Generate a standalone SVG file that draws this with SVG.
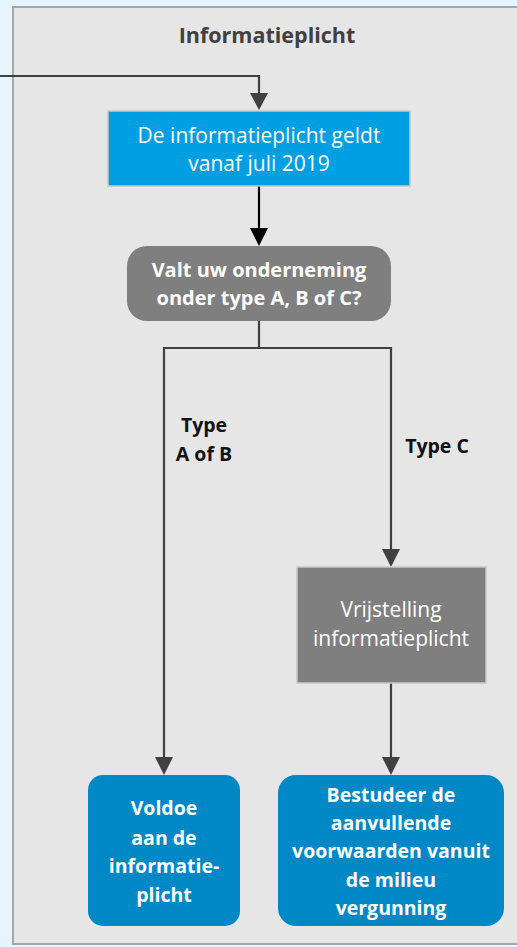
<svg xmlns="http://www.w3.org/2000/svg" width="517" height="947" viewBox="0 0 517 947">
<style>
text{font-family:"Open Sans","Liberation Sans",sans-serif;text-anchor:middle;fill:#fff}
.b{font-weight:bold}
.lab{fill:#111;font-weight:bold;font-size:19.5px}
.n{font-size:21px}
.q{font-size:20px;font-weight:bold}
.e{font-size:19.5px;font-weight:bold}
.c{fill:none;stroke:#404040;stroke-width:2.2}
</style>
<rect width="517" height="947" fill="#E6F5FC"/>
<g id="container">
<rect x="13" y="7" width="510" height="937" fill="#E6E6E6" stroke="#A6A6A6" stroke-width="2"/>
<text x="267" y="43" class="b" style="fill:#404040;font-size:21.5px">Informatieplicht</text>
</g>
<g id="connectors">
<path class="c" d="M0,76 H259 V96"/>
<path d="M250,93 L268,93 L259,110 Z" fill="#404040"/>
<path d="M259,186 V230" fill="none" stroke="#000" stroke-width="2.2"/>
<path d="M250,228 L268,228 L259,246 Z" fill="#000"/>
<path class="c" d="M259,321 V348 M164,348 H391 M164,347 V760 M391,347 V552"/>
<path d="M155,757 L173,757 L164,775 Z" fill="#404040"/>
<path d="M382,549 L400,549 L391,567 Z" fill="#404040"/>
<path class="c" d="M391,683 V760"/>
<path d="M382,757 L400,757 L391,775 Z" fill="#404040"/>
<text x="204" y="432" class="lab">Type</text>
<text x="204" y="461" class="lab">A of B</text>
<text x="437" y="453" class="lab">Type C</text>
</g>
<g id="start">
<rect x="108" y="111" width="302" height="75" fill="#009FE3" stroke="#C8C8C8" stroke-width="1.5"/>
<text x="259" y="143" class="n">De informatieplicht geldt</text>
<text x="259" y="171" class="n">vanaf juli 2019</text>
</g>
<g id="question">
<rect x="127" y="246" width="264" height="75" rx="20" fill="#7F7F7F"/>
<text x="259" y="277" class="q">Valt uw onderneming</text>
<text x="259" y="305" class="q">onder type A, B of C?</text>
</g>
<g id="vrijstelling">
<rect x="297" y="567" width="189" height="116" fill="#7F7F7F" stroke="#C8C8C8" stroke-width="1.5"/>
<text x="391" y="617" class="n">Vrijstelling</text>
<text x="391" y="646" class="n">informatieplicht</text>
</g>
<g id="voldoe">
<rect x="88" y="775" width="152" height="151" rx="15" fill="#0088C6"/>
<text x="164" y="815" class="e">Voldoe</text>
<text x="164" y="845" class="e">aan de</text>
<text x="164" y="873" class="e">informatie-</text>
<text x="164" y="902" class="e">plicht</text>
</g>
<g id="bestudeer">
<rect x="278" y="775" width="226" height="151" rx="18" fill="#0088C6"/>
<text x="391" y="802" class="e">Bestudeer de</text>
<text x="391" y="830" class="e">aanvullende</text>
<text x="391" y="858" class="e">voorwaarden vanuit</text>
<text x="391" y="887" class="e">de milieu</text>
<text x="391" y="915" class="e">vergunning</text>
</g>
</svg>
